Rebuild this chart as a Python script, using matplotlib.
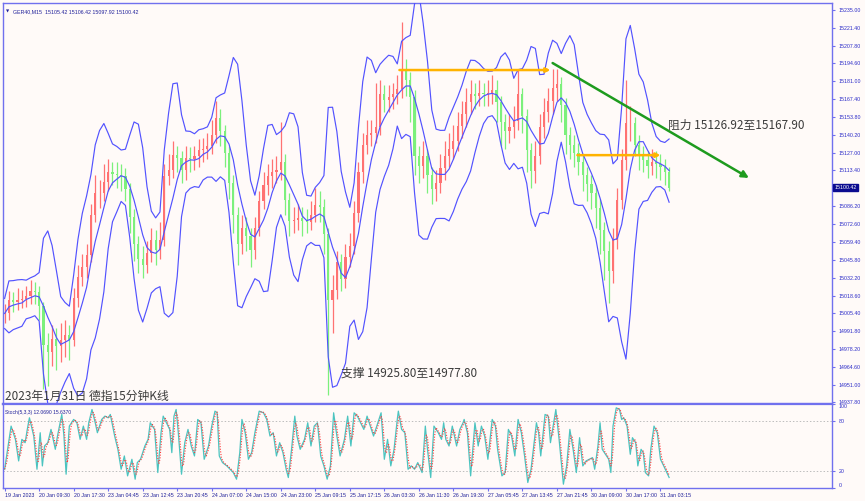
import numpy as np
import pandas as pd
import matplotlib
matplotlib.use('Agg')
import matplotlib.pyplot as plt

plt.rcParams['font.family'] = ['Noto Sans CJK SC', 'DejaVu Sans']

# ---------------- data (hourly candles built from 15-min chart) ----------------
bars_per_candle = 4
close = [15005, 15015, 15014, 15015, 15016, 15018, 15022, 15021, 15011, 14981,
         14976, 14986, 14980, 14985, 14989, 14985, 15017, 15033, 15040, 15049,
         15080, 15096, 15096, 15105, 15112, 15111, 15110, 15109, 15099, 15078,
         15058, 15046, 15042, 15051, 15061, 15053, 15061, 15109, 15114, 15125,
         15123, 15114, 15123, 15122, 15124, 15129, 15130, 15132, 15140, 15153,
         15143, 15127, 15104, 15080, 15058, 15070, 15064, 15053, 15070, 15090,
         15102, 15109, 15112, 15114, 15120, 15091, 15075, 15076, 15077, 15075,
         15074, 15080, 15087, 15086, 15065, 15015, 15023, 15044, 15031, 15048,
         15056, 15081, 15112, 15133, 15140, 15142, 15146, 15171, 15167, 15169,
         15171, 15175, 15190, 15182, 15169, 15124, 15117, 15124, 15110, 15099,
         15104, 15115, 15124, 15130, 15136, 15147, 15156, 15165, 15171, 15170,
         15172, 15171, 15172, 15174, 15165, 15150, 15143, 15146, 15151, 15171,
         15155, 15129, 15113, 15124, 15146, 15158, 15166, 15176, 15179, 15163,
         15140, 15133, 15127, 15120, 15110, 15103, 15096, 15085, 15068, 15052,
         15037, 15061, 15091, 15121, 15149, 15149, 15133, 15124, 15121, 15117,
         15120, 15118, 15116, 15112, 15100.42]
high = [15012, 15022, 15021, 15024, 15023, 15026, 15030, 15029, 15026, 15014,
        14990, 14996, 14994, 14998, 15000, 14996, 15024, 15042, 15050, 15058,
        15088, 15110, 15106, 15118, 15122, 15120, 15120, 15118, 15115, 15104,
        15084, 15064, 15056, 15060, 15070, 15068, 15074, 15118, 15126, 15136,
        15132, 15128, 15132, 15131, 15132, 15137, 15138, 15142, 15152, 15166,
        15160, 15148, 15132, 15110, 15086, 15080, 15078, 15070, 15078, 15098,
        15112, 15118, 15122, 15124, 15150, 15126, 15096, 15086, 15088, 15086,
        15084, 15090, 15100, 15098, 15092, 15070, 15034, 15052, 15050, 15058,
        15066, 15090, 15120, 15142, 15152, 15152, 15180, 15182, 15178, 15178,
        15180, 15186, 15226, 15198, 15188, 15174, 15132, 15136, 15130, 15116,
        15114, 15126, 15136, 15142, 15148, 15158, 15166, 15176, 15182, 15180,
        15182, 15180, 15182, 15186, 15182, 15170, 15156, 15156, 15162, 15190,
        15176, 15160, 15134, 15136, 15156, 15168, 15176, 15190, 15190, 15184,
        15168, 15146, 15140, 15134, 15126, 15116, 15110, 15102, 15092, 15074,
        15060, 15070, 15100, 15130, 15182, 15162, 15154, 15140, 15132, 15128,
        15130, 15128, 15126, 15122, 15116]
low = [14998, 15000, 15006, 15008, 15009, 15010, 15012, 15012, 15000, 14948,
       14950, 14965, 14962, 14968, 14972, 14970, 14980, 15010, 15026, 15032,
       15044, 15074, 15085, 15090, 15098, 15102, 15100, 15098, 15090, 15066,
       15045, 15036, 15032, 15036, 15044, 15042, 15046, 15056, 15102, 15108,
       15112, 15104, 15106, 15112, 15114, 15116, 15120, 15122, 15126, 15134,
       15132, 15116, 15092, 15066, 15042, 15050, 15052, 15040, 15046, 15064,
       15084, 15095, 15100, 15104, 15106, 15080, 15064, 15066, 15068, 15064,
       15066, 15068, 15074, 15074, 15050, 14943, 14990, 15016, 15022, 15024,
       15040, 15050, 15074, 15104, 15126, 15132, 15134, 15140, 15158, 15158,
       15160, 15164, 15168, 15170, 15150, 15110, 15104, 15108, 15096, 15088,
       15090, 15096, 15106, 15116, 15122, 15128, 15138, 15146, 15156, 15160,
       15162, 15162, 15162, 15164, 15150, 15132, 15130, 15134, 15138, 15144,
       15142, 15112, 15100, 15104, 15118, 15138, 15150, 15156, 15166, 15150,
       15126, 15122, 15116, 15110, 15098, 15090, 15084, 15070, 15050, 15030,
       15013, 15028, 15054, 15084, 15114, 15136, 15124, 15114, 15112, 15108,
       15110, 15108, 15106, 15102, 15097.92]

price_ticks = [15235.00, 15221.40, 15207.80, 15194.60, 15181.00, 15167.40, 15153.80,
               15140.20, 15127.00, 15113.40, 15086.20, 15072.60, 15059.40, 15045.80,
               15032.20, 15018.60, 15005.40, 14991.80, 14978.20, 14964.60, 14951.00,
               14937.80]
last_price = 15100.42

time_labels = ['19 Jan 2023', '20 Jan 09:30', '20 Jan 17:30', '23 Jan 04:45',
               '23 Jan 12:45', '23 Jan 20:45', '24 Jan 07:00', '24 Jan 15:00',
               '24 Jan 23:00', '25 Jan 09:15', '25 Jan 17:15', '26 Jan 03:30',
               '26 Jan 11:30', '26 Jan 19:30', '27 Jan 05:45', '27 Jan 13:45',
               '27 Jan 21:45', '30 Jan 09:00', '30 Jan 17:00', '31 Jan 03:15']
bars_per_label = 32

# Stochastic %K read at turning points (bar index, value)
stoch_bar = [0, 6, 10, 13, 16, 19, 21, 23, 27, 30, 33, 35, 37, 40, 43, 47, 49, 53, 55, 57,
             60, 64, 67, 70, 73, 76, 78, 81, 84, 86, 90, 93, 96, 98, 102, 105, 108, 111, 114, 118,
             121, 123, 126, 130, 133, 135, 139, 142, 145, 147, 150, 153, 155, 157, 159, 161, 164, 167, 170, 173,
             176, 179, 182, 185, 189, 192, 195, 197, 199, 202, 206, 209, 212, 215, 218, 220, 223, 226, 229, 232,
             236, 240, 243, 246, 249, 252, 255, 258, 261, 263, 266, 269, 271, 274, 278, 281, 284, 287, 290, 293,
             296, 299, 302, 305, 308, 311, 315, 318, 321, 324, 327, 330, 333, 336, 339, 342, 345, 349, 352, 355,
             358, 361, 364, 365, 368, 371, 374, 377, 380, 383, 387, 390, 392, 395, 398, 402, 405, 407, 409, 412,
             415, 419, 422, 425, 426, 429, 432, 436, 439, 442, 445, 448, 452, 455, 457, 461, 464, 467, 470, 473,
             476, 479, 482, 485, 488, 493, 495, 497, 501, 504, 506, 511, 514, 518, 521, 524, 527, 530, 533, 536,
             539, 542, 545, 547, 550, 552, 554, 557, 560, 562, 564, 567, 570, 572, 574, 577, 580, 582, 585, 587,
             590, 592, 594, 597, 599, 602, 605, 608, 611, 616]
stoch_k = [22, 74, 58, 32, 58, 54, 70, 84, 62, 22, 66, 26, 50, 54, 70, 46, 62, 88, 62, 16,
           74, 82, 78, 58, 74, 58, 78, 94, 78, 66, 82, 86, 84, 88, 62, 46, 22, 38, 14, 34,
           10, 30, 34, 50, 58, 78, 70, 18, 66, 86, 78, 70, 42, 86, 94, 66, 16, 54, 70, 50,
           38, 82, 78, 34, 50, 74, 92, 90, 38, 30, 26, 22, 18, 10, 42, 82, 66, 34, 42, 66,
           92, 90, 82, 62, 66, 38, 54, 42, 22, 12, 46, 86, 62, 46, 58, 78, 50, 74, 78, 38,
           26, 10, 26, 90, 62, 38, 58, 86, 50, 90, 86, 78, 70, 86, 74, 62, 74, 90, 34, 58,
           26, 46, 82, 92, 70, 66, 22, 26, 22, 30, 18, 74, 46, 12, 74, 66, 58, 78, 58, 50,
           74, 50, 70, 78, 82, 66, 14, 78, 50, 74, 62, 34, 82, 74, 46, 14, 18, 70, 62, 38,
           82, 66, 38, 6, 22, 78, 66, 38, 88, 86, 54, 94, 58, 4, 26, 70, 46, 18, 60, 26,
           32, 34, 36, 22, 50, 78, 46, 40, 34, 18, 74, 96, 94, 82, 84, 74, 40, 60, 54, 26,
           46, 42, 18, 14, 46, 74, 66, 34, 26, 12.069]

# annotations
upper_level = 15189.5
lower_level = 15125.0
upper_span = (366, 506)
lower_span = (531, 608)
trend_start = (508, 15194.8)
trend_end = (690, 15107.7)
resist_text = '阻力 15126.92至15167.90'
support_text = '支撑 14925.80至14977.80'
title_text = '2023年1月31日 德指15分钟K线'
header_text = 'GER40,M15  15105.42 15106.42 15097.92 15100.42'
stoch_text = 'Stoch(5,3,3) 12.0690 15.6370'

# ---------------- styling ----------------
BG = '#fffaf8'
FRAME = '#7070ee'
AXTXT = '#2b2bc8'
UP = '#ff7272'
DN = '#7cf07c'
BAND = '#5252ff'

W, H = 865, 501
fig = plt.figure(figsize=(W / 100, H / 100), dpi=100, facecolor=BG)
ax = fig.add_axes([3 / W, 1 - 404 / H, 829 / W, 401 / H], facecolor=BG)
ax2 = fig.add_axes([3 / W, 1 - 488 / H, 829 / W, 84 / H], facecolor=BG)

xmax = 767
for a in (ax, ax2):
    a.set_xlim(-1.5, xmax)
    for s in a.spines.values():
        s.set_color(FRAME)
        s.set_linewidth(1.0)
ax.spines['bottom'].set_linewidth(1.6)
ax2.spines['top'].set_linewidth(1.6)

ax.set_ylim(14936.4, 15240.3)

c = np.array(close, dtype=float)
h = np.array(high, dtype=float)
l = np.array(low, dtype=float)
o = np.concatenate([[c[0]], c[:-1]])
xs = np.arange(len(c)) * bars_per_candle
cols = np.where(c >= o, UP, DN)

# Bollinger bands (20 x 15-min ~ 5 hourly candles; spread includes intrabar range)
n = 5
mid = pd.Series(c).rolling(n, min_periods=1).mean().to_numpy()
sd_c = pd.Series(c).rolling(n, min_periods=1).std(ddof=0).to_numpy()
sd_all = np.array([np.std(np.concatenate([c[max(0, i - n + 1):i + 1],
                                          h[max(0, i - n + 1):i + 1],
                                          l[max(0, i - n + 1):i + 1]]))
                   for i in range(len(c))])
sd = np.sqrt(sd_c ** 2 + sd_all ** 2)
ax.plot(xs, mid + 2 * sd, color=BAND, lw=0.85, zorder=3)
ax.plot(xs, mid - 2 * sd, color=BAND, lw=0.85, zorder=3)
ax.plot(xs, mid, color=BAND, lw=0.85, zorder=3)

ax.vlines(xs, l, h, colors=cols, lw=0.9, zorder=2)
body_h = np.maximum(np.abs(c - o), 0.6)
ax.bar(xs, body_h, bottom=np.minimum(c, o), width=2.0, color=cols, lw=0, zorder=2)

# price axis on the right
ax.yaxis.tick_right()
ax.set_yticks(price_ticks)
ax.set_yticklabels([f'{v:.2f}' for v in price_ticks])
ax.tick_params(axis='y', colors=FRAME, labelcolor=AXTXT, labelsize=3.8, length=2.5, width=0.8, pad=2)
for t in ax.get_yticklabels():
    t.set_family(['Liberation Sans', 'DejaVu Sans'])
ax.set_xticks([])

# last price tag
ax.annotate(f'{last_price:.2f}', xy=(1.0, last_price), xycoords=('axes fraction', 'data'),
            xytext=(2, 0), textcoords='offset points', va='center', ha='left',
            fontsize=3.8, color='white', family=['Liberation Sans', 'DejaVu Sans'],
            bbox=dict(boxstyle='square,pad=0.25', fc='#0b0b8f', ec='#0b0b8f'), annotation_clip=False)

# orange levels with arrow heads
for lvl, (x0, x1) in ((upper_level, upper_span), (lower_level, lower_span)):
    ax.annotate('', xy=(x1, lvl), xytext=(x0, lvl),
                arrowprops=dict(arrowstyle='-|>', color='#ffb300', lw=1.8,
                                mutation_scale=6, shrinkA=0, shrinkB=0), zorder=5)

# green trend arrow
ax.annotate('', xy=trend_end, xytext=trend_start,
            arrowprops=dict(arrowstyle='-|>', color='#1e9b1e', lw=1.8,
                            mutation_scale=10, shrinkA=0, shrinkB=0), zorder=5,
            annotation_clip=False)

ax.text(615, 15147.8, resist_text, fontsize=8.5, color='#3c3c3c', va='center', ha='left', zorder=6)
ax.text(312, 14960.0, support_text, fontsize=8.5, color='#3c3c3c', va='center', ha='left', zorder=6)
ax.text(0.0, 14942.0, title_text, fontsize=8.5, color='#3c3c3c', va='center', ha='left', zorder=6)
ax.text(0.012, 0.985, header_text, transform=ax.transAxes, fontsize=3.8, color='#20209a',
        va='top', ha='left', family=['Liberation Sans', 'DejaVu Sans'])
ax.text(0.003, 0.985, '\u25bc', transform=ax.transAxes, fontsize=3, color='#20209a', va='top', ha='left',
        family=['DejaVu Sans'])

# ---------------- stochastic ----------------
ax2.set_ylim(-0.6, 100.6)
grid = np.arange(0, stoch_bar[-1] + 1)
kg = np.interp(grid, stoch_bar, stoch_k)
dline = pd.Series(kg).rolling(3, min_periods=1).mean()
ax2.axhline(80, color='#bdbdbd', lw=0.7, ls=(0, (1.5, 2)))
ax2.axhline(20, color='#bdbdbd', lw=0.7, ls=(0, (1.5, 2)))
ax2.plot(stoch_bar, stoch_k, color='#4cc4c0', lw=0.9, zorder=3)
ax2.plot(grid, dline, color='#ff3b3b', lw=0.8, ls=(0, (1, 1.4)), zorder=4)
ax2.text(0.003, 0.93, stoch_text, transform=ax2.transAxes, fontsize=3.6, color='#20209a',
         va='top', ha='left', family=['Liberation Sans', 'DejaVu Sans'])

ax2.yaxis.tick_right()
ax2.set_yticks([100, 80, 20, 0])
ax2.set_yticklabels(['100', '80', '20', '0'])
ax2.tick_params(axis='y', colors=FRAME, labelcolor=AXTXT, labelsize=3.8, length=2.5, width=0.8, pad=2)
ylabs = ax2.get_yticklabels()
ylabs[0].set_va('top')
ylabs[3].set_va('bottom')
for t in ylabs:
    t.set_family(['Liberation Sans', 'DejaVu Sans'])

xt = np.arange(len(time_labels)) * bars_per_label
ax2.set_xticks(xt)
ax2.set_xticklabels(time_labels)
ax2.tick_params(axis='x', colors=FRAME, labelcolor='#20209a', labelsize=3.8, length=2, width=0.8, pad=1.5)
for t in ax2.get_xticklabels():
    t.set_ha('left')
    t.set_family(['Liberation Sans', 'DejaVu Sans'])

fig.savefig('out.png', dpi=100, facecolor=BG)
